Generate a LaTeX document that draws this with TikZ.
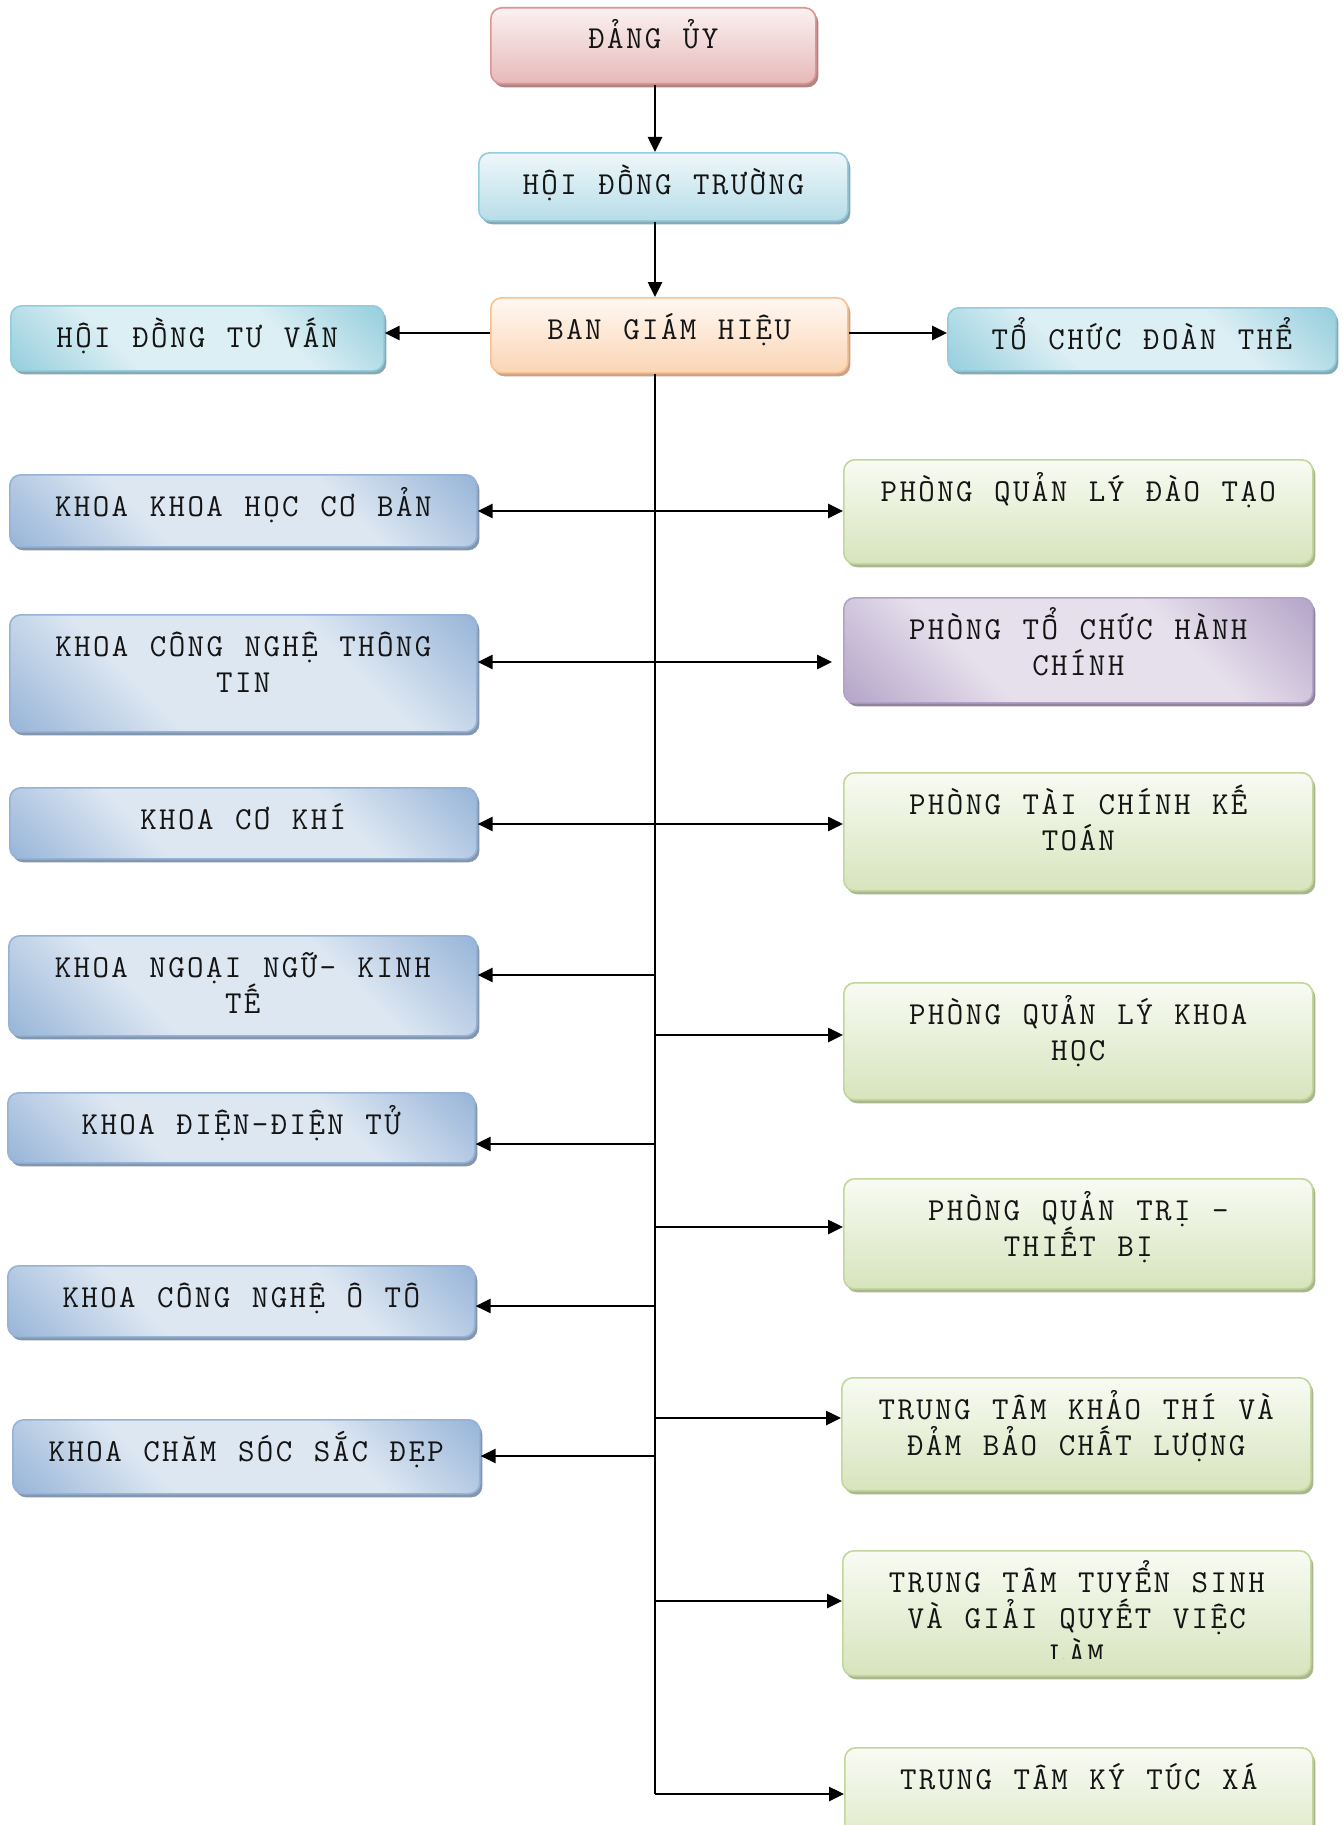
\documentclass[tikz,border=0pt]{standalone}
\usepackage{fontspec}
\setmainfont{Latin Modern Mono}[LetterSpace=7.5,WordSpace=1.143]
\usetikzlibrary{arrows.meta,shadows,calc}
\definecolor{txtc}{HTML}{141414}
\definecolor{redD}{HTML}{D99694}\definecolor{redT}{HTML}{FBF1F1}\definecolor{redB}{HTML}{E6B9B8}\definecolor{redS}{HTML}{B08483}
\definecolor{aqD}{HTML}{93CDDD}\definecolor{aqT}{HTML}{EEF7FA}\definecolor{aqB}{HTML}{B7DDE8}\definecolor{aqL}{HTML}{DCEFF4}\definecolor{aqS}{HTML}{86A9B3}
\definecolor{orD}{HTML}{FAC090}\definecolor{orT}{HTML}{FFF8F2}\definecolor{orB}{HTML}{FBD5B5}\definecolor{orS}{HTML}{C9A48A}
\definecolor{blD}{HTML}{95B3D7}\definecolor{blL}{HTML}{DDE7F2}\definecolor{blS}{HTML}{8396AE}
\definecolor{grD}{HTML}{C3D69B}\definecolor{grT}{HTML}{F8FBF3}\definecolor{grB}{HTML}{D7E4BD}\definecolor{grS}{HTML}{A8B78E}
\definecolor{puD}{HTML}{B3A2C7}\definecolor{puL}{HTML}{E6E0EC}\definecolor{puS}{HTML}{8F849B}
\pgfdeclarehorizontalshading{diagbl}{100bp}{color(0bp)=(blD); color(14bp)=(blD); color(36bp)=(blL); color(64bp)=(blL); color(86bp)=(blD); color(100bp)=(blD)}
\pgfdeclarehorizontalshading{diagaq}{100bp}{color(0bp)=(aqD); color(14bp)=(aqD); color(36bp)=(aqL); color(64bp)=(aqL); color(86bp)=(aqD); color(100bp)=(aqD)}
\pgfdeclarehorizontalshading{diagpu}{100bp}{color(0bp)=(puD); color(14bp)=(puD); color(36bp)=(puL); color(64bp)=(puL); color(86bp)=(puD); color(100bp)=(puD)}
\tikzset{
  box/.style={rounded corners=11pt, line width=1.6pt, inner sep=0pt, anchor=north west},
  shad/.style={drop shadow={shadow xshift=2.5pt, shadow yshift=-3.5pt, fill=#1, opacity=1}},
  redbox/.style={box, draw=redD, top color=redT, bottom color=redB, shad=redS},
  aqbox/.style={box, draw=aqD, top color=aqT, bottom color=aqB, shad=aqS},
  orbox/.style={box, draw=orD, top color=orT, bottom color=orB, shad=orS},
  aqdiag/.style={box, draw=aqD, shading=diagaq, shading angle=45, shad=aqS},
  blbox/.style={box, draw=blD, shading=diagbl, shading angle=45, shad=blS},
  grbox/.style={box, draw=grD, top color=grT, bottom color=grB, shad=grS},
  pubox/.style={box, draw=puD, shading=diagpu, shading angle=45, shad=puS},
  txt/.style={anchor=base, inner sep=0pt, text=txtc, font=\fontsize{32}{36}\selectfont},
  conn/.style={line width=2.6pt, draw=black},
  arr/.style={conn, -{Triangle[length=15pt,width=14pt]}},
  dbl/.style={conn, {Triangle[length=15pt,width=14pt]}-{Triangle[length=15pt,width=14pt]}}
}
\newcommand\mkbox[6]{\node[#6,minimum width={#4pt-#2pt},minimum height={#5pt-#3pt}] (#1) at (#2,#3) {};}
\newcommand\lbl[3][0]{\node[txt] at ([yshift={-42pt-#1*36pt}]#2.north) {#3};}
\begin{document}
\begin{tikzpicture}[x=1pt,y=-1pt]
\useasboundingbox[fill=white] (0,0) rectangle (1343,1825);
% top chain
\mkbox{dangu}{490}{7}{815}{83}{redbox}
\lbl{dangu}{ĐẢNG ỦY}
\mkbox{hdt}{478}{152}{847}{220}{aqbox}
\lbl{hdt}{HỘI ĐỒNG TRƯỜNG}
\mkbox{bgh}{490}{297}{847}{372}{orbox}
\lbl{bgh}{BAN GIÁM HIỆU}
\mkbox{hdtv}{10}{305}{383}{370}{aqdiag}
\lbl{hdtv}{HỘI ĐỒNG TƯ VẤN}
\mkbox{tcdt}{947}{307}{1335}{370}{aqdiag}
\lbl{tcdt}{TỔ CHỨC ĐOÀN THỂ}
% left column
\mkbox{kkhcb}{9}{474}{476}{546}{blbox}
\lbl{kkhcb}{KHOA KHOA HỌC CƠ BẢN}
\mkbox{kcntt}{9}{614}{476}{731}{blbox}
\lbl{kcntt}{KHOA CÔNG NGHỆ THÔNG}
\lbl[1]{kcntt}{TIN}
\mkbox{kck}{9}{787}{476}{858}{blbox}
\lbl{kck}{KHOA CƠ KHÍ}
\mkbox{knn}{8}{935}{476}{1035}{blbox}
\lbl{knn}{KHOA NGOẠI NGỮ- KINH}
\lbl[1]{knn}{TẾ}
\mkbox{kddt}{7}{1092}{474}{1162}{blbox}
\lbl{kddt}{KHOA ĐIỆN-ĐIỆN TỬ}
\mkbox{kcnot}{7}{1265}{474}{1336}{blbox}
\lbl{kcnot}{KHOA CÔNG NGHỆ Ô TÔ}
\mkbox{kcssd}{12}{1419}{479}{1493}{blbox}
\lbl{kcssd}{KHOA CHĂM SÓC SẮC ĐẸP}
% right column
\mkbox{pqldt}{843}{459}{1312}{563}{grbox}
\lbl{pqldt}{PHÒNG QUẢN LÝ ĐÀO TẠO}
\mkbox{ptchc}{843}{597}{1312}{702}{pubox}
\lbl{ptchc}{PHÒNG TỔ CHỨC HÀNH}
\lbl[1]{ptchc}{CHÍNH}
\mkbox{ptckt}{843}{772}{1312}{890}{grbox}
\lbl{ptckt}{PHÒNG TÀI CHÍNH KẾ}
\lbl[1]{ptckt}{TOÁN}
\mkbox{pqlkh}{843}{982}{1312}{1099}{grbox}
\lbl{pqlkh}{PHÒNG QUẢN LÝ KHOA}
\lbl[1]{pqlkh}{HỌC}
\mkbox{pqttb}{843}{1178}{1312}{1288}{grbox}
\lbl{pqttb}{PHÒNG QUẢN TRỊ -}
\lbl[1]{pqttb}{THIẾT BỊ}
\mkbox{ttkt}{841}{1377}{1310}{1490}{grbox}
\lbl{ttkt}{TRUNG TÂM KHẢO THÍ VÀ}
\lbl[1]{ttkt}{ĐẢM BẢO CHẤT LƯỢNG}
\mkbox{ttts}{842}{1550}{1310}{1675}{grbox}
\lbl{ttts}{TRUNG TÂM TUYỂN SINH}
\lbl[1]{ttts}{VÀ GIẢI QUYẾT VIỆC}
\begin{scope}
\clip (842,1600) rectangle (1310,1658);
\lbl[2]{ttts}{LÀM}
\end{scope}
\mkbox{ttktx}{844}{1747}{1312}{1870}{grbox}
\lbl{ttktx}{TRUNG TÂM KÝ TÚC XÁ}
% connectors
\coordinate (tx) at (655,0);
\coordinate (s0) at (0,333);
\draw[arr] (tx |- dangu.south) -- (tx |- hdt.north);
\draw[arr] (tx |- hdt.south) -- (tx |- bgh.north);
\draw[arr] (s0 -| bgh.west) -- (s0 -| hdtv.east);
\draw[arr] (s0 -| bgh.east) -- (s0 -| tcdt.west);
\coordinate (tend) at (655,1794);
\draw[conn] (tx |- bgh.south) -- (tend);
\coordinate (r1) at (655,511);
\coordinate (r2) at (655,662);
\coordinate (r3) at (655,824);
\draw[dbl] (r1 -| kkhcb.east) -- (r1 -| pqldt.west);
\draw[arr] (r2) -- (r2 -| kcntt.east);
\draw[arr] (r2) -- ([xshift=-11pt]r2 -| ptchc.west);
\draw[dbl] (r3 -| kck.east) -- (r3 -| ptckt.west);
\coordinate (l4) at (655,975);
\coordinate (l5) at (655,1144);
\coordinate (l6) at (655,1306);
\coordinate (l7) at (655,1456);
\draw[arr] (l4) -- (l4 -| knn.east);
\draw[arr] (l5) -- (l5 -| kddt.east);
\draw[arr] (l6) -- (l6 -| kcnot.east);
\draw[arr] (l7) -- (l7 -| kcssd.east);
\coordinate (q4) at (655,1035);
\coordinate (q5) at (655,1227);
\coordinate (q6) at (655,1418);
\coordinate (q7) at (655,1601);
\draw[arr] (q4) -- (q4 -| pqlkh.west);
\draw[arr] (q5) -- (q5 -| pqttb.west);
\draw[arr] (q6) -- (q6 -| ttkt.west);
\draw[arr] (q7) -- (q7 -| ttts.west);
\draw[arr] (tend) -- (tend -| ttktx.west);
\end{tikzpicture}
\end{document}
